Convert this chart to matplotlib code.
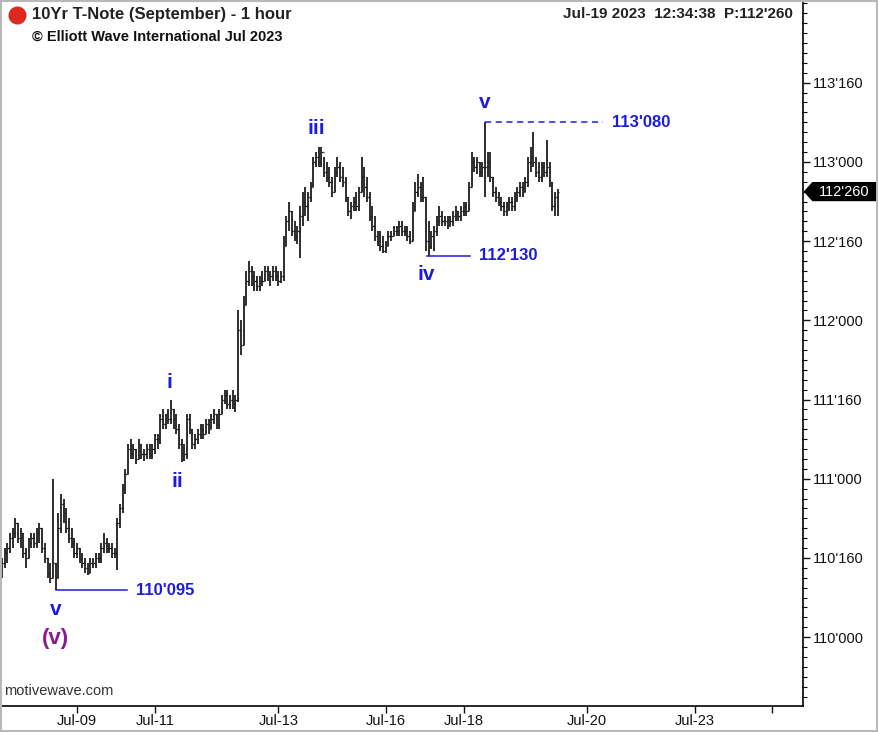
import matplotlib.pyplot as plt
from matplotlib.patches import Polygon, Rectangle
from matplotlib.ticker import MultipleLocator, FixedLocator, FuncFormatter
import matplotlib.transforms as mtransforms

plt.rcParams['font.family'] = ['Liberation Sans', 'DejaVu Sans']

# hourly bars, prices in 32nds of a point above 110'000
bar_open = [9, 13, 15, 17, 18, 20, 21, 23, 20, 21,
            17, 16, 19, 20, 19, 21, 22, 18, 16, 13,
            12, 15, 12, 22, 27, 25, 22, 20, 19, 17,
            18, 16, 15, 14, 13, 15, 15, 16, 16, 18,
            19, 18, 18, 17, 17, 23, 26, 30, 33, 38,
            37, 38, 36, 39, 37, 37, 38, 37, 38, 40,
            40, 44, 43, 45, 44, 46, 44, 42, 39, 36,
            37, 44, 42, 39, 40, 41, 42, 41, 43, 42,
            44, 45, 43, 45, 48, 49, 47, 48, 47, 48,
            62, 59, 67, 72, 74, 73, 72, 71, 72, 72,
            74, 73, 73, 74, 73, 72, 73, 79, 84, 86,
            82, 81, 82, 85, 88, 87, 89, 91, 96, 97,
            96, 98, 94, 93, 92, 90, 94, 95, 93, 92,
            89, 86, 87, 88, 87, 90, 93, 91, 89, 85,
            83, 81, 80, 79, 78, 79, 81, 81, 82, 82,
            83, 82, 82, 81, 80, 86, 90, 91, 89, 89,
            80, 79, 81, 82, 84, 85, 84, 84, 83, 84,
            85, 86, 85, 86, 87, 86, 91, 96, 95, 96,
            94, 95, 95, 96, 93, 90, 89, 88, 87, 86,
            87, 88, 87, 89, 90, 91, 90, 92, 96, 97,
            96, 94, 93, 95, 94, 95, 92, 87, 89]
bar_high = [14, 16, 18, 19, 21, 22, 24, 23, 22, 21,
            18, 20, 21, 21, 22, 23, 22, 19, 16, 15,
            32, 15, 25, 29, 28, 26, 24, 22, 20, 19,
            18, 17, 16, 15, 16, 16, 17, 17, 19, 21,
            20, 19, 19, 18, 24, 27, 31, 34, 39, 40,
            39, 38, 40, 39, 38, 39, 39, 39, 41, 41,
            45, 46, 45, 46, 48, 46, 45, 43, 40, 39,
            45, 45, 42, 41, 42, 43, 43, 44, 44, 45,
            46, 45, 46, 49, 50, 50, 49, 50, 49, 66,
            64, 69, 74, 76, 75, 74, 73, 73, 74, 75,
            75, 74, 75, 75, 74, 74, 81, 85, 88, 86,
            84, 83, 87, 90, 91, 90, 92, 97, 98, 99,
            99, 97, 96, 95, 93, 95, 97, 96, 95, 93,
            89, 88, 89, 90, 91, 97, 95, 93, 90, 87,
            85, 82, 82, 81, 80, 82, 82, 83, 83, 84,
            84, 83, 83, 82, 88, 92, 93.5, 92, 93, 89,
            84, 82, 83, 85, 87, 86, 85, 85, 85, 86,
            87, 86, 87, 88, 88, 92, 98, 97, 97, 96,
            96, 104, 98, 98, 93, 91, 90, 89, 88, 88,
            89, 89, 90, 91, 92, 92, 93, 97, 99, 102,
            97, 96, 96, 96, 100.5, 96, 92, 90, 90.5]
bar_low = [8, 12, 14, 15, 17, 18, 20, 19, 18, 16,
           14, 16, 18, 18, 18, 19, 17, 15, 12, 11,
           12, 9.5, 12, 21, 23, 21, 19, 18, 16, 16,
           15, 14, 13, 12.5, 13, 14, 14, 15, 15, 17,
           17, 17, 16, 16, 13.5, 22, 25, 29, 33, 36,
           36, 35, 36, 36, 35.5, 36, 36, 36, 37, 38,
           39, 42, 42, 43, 43, 42, 41, 38, 35.4, 35.5,
           36, 41, 38, 38, 39, 40, 40, 41, 41, 42,
           43, 42, 42, 45, 47, 46, 46, 46, 45.5, 47.5,
           57, 59, 67, 71, 71, 70, 70, 70, 71, 72,
           72, 71, 72, 72, 71, 71.5, 72, 79, 82, 81,
           80, 79.5, 76.5, 83, 85, 84, 88, 91, 95, 95,
           95, 93, 92, 91, 89, 90, 93, 92, 91, 88,
           85, 84.5, 86, 86, 86, 90, 89, 88, 84, 82,
           80, 79, 78, 77.5, 77.5, 79, 80, 81, 81, 81,
           81, 81, 80, 79.5, 80, 86, 89, 88, 88, 78,
           77, 78.5, 78, 81, 83, 83, 83, 82.5, 83, 83,
           84, 84, 84, 85, 85, 86, 91, 94, 93.5, 93,
           93, 89, 93, 92, 89, 88, 87, 86, 85, 85,
           86, 86, 86, 88, 89, 89, 90, 91, 94, 95,
           93, 92, 92, 93, 93, 91, 86, 85, 85]
bar_close = [13, 15, 17, 18, 20, 21, 23, 20, 21, 17,
             16, 19, 20, 19, 21, 22, 18, 16, 13, 12,
             15, 12, 22, 27, 25, 22, 20, 19, 17, 18,
             16, 15, 14, 13, 15, 15, 16, 16, 18, 19,
             18, 18, 17, 17, 23, 26, 30, 33, 38, 37,
             38, 36, 39, 37, 37, 38, 37, 38, 40, 40,
             44, 43, 45, 44, 46, 44, 42, 39, 36, 37,
             44, 42, 39, 40, 41, 42, 41, 43, 42, 44,
             45, 43, 45, 48, 49, 47, 48, 47, 48, 62,
             59, 67, 72, 74, 73, 72, 71, 72, 72, 74,
             73, 73, 74, 73, 72, 73, 79, 84, 86, 82,
             81, 82, 85, 88, 87, 89, 91, 96, 97, 96,
             98, 94, 93, 92, 90, 94, 95, 93, 92, 89,
             86, 87, 88, 87, 90, 93, 91, 89, 85, 83,
             81, 80, 79, 78, 79, 81, 81, 82, 82, 83,
             82, 82, 81, 80, 86, 90, 91, 89, 89, 80,
             79, 81, 82, 84, 85, 84, 84, 83, 84, 85,
             86, 85, 86, 87, 86, 91, 96, 95, 96, 94,
             95, 95, 96, 93, 90, 89, 88, 87, 86, 87,
             88, 87, 89, 90, 91, 90, 92, 96, 97, 96,
             94, 93, 95, 94, 95, 92, 87, 89, 90]

# session-start bar index for each date label
date_ticks = [29, 58, 104, 144, 173, 219, 259, 288]
date_labels = ['Jul-09', 'Jul-11', 'Jul-13', 'Jul-16', 'Jul-18', 'Jul-20', 'Jul-23', '']

# labelled price levels (32nds above 110'000): 110'000 ... 113'160
price_ticks = [0, 16, 32, 48, 64, 80, 96, 112]

last_price = 90  # 112'260

# Elliott wave counts: (label, bar, level in 32nds, color)
wave_labels = [('v', 21, 5.5, '#1c1ce0'), ('(v)', 21, -0.3, '#8b1a8e'),
               ('i', 63.5, 51.5, '#1c1ce0'), ('ii', 66.5, 31.5, '#1c1ce0'),
               ('iii', 118, 102.8, '#1c1ce0'), ('iv', 159, 73.3, '#1c1ce0'),
               ('v', 181, 108, '#1c1ce0')]
# marked extremes: (level, line start bar, line end bar, dashed)
marked_levels = [(9.5, 21, 47.5, False), (77, 159.3, 175.3, False), (104, 181, 225, True)]

blue = '#1c1ce0'


def fmt32(v, pos=None):
    handle = 110 + int(v // 32)
    rem = v - (handle - 110) * 32
    whole = int(rem + 1e-6)
    frac = int(round((rem - whole) * 10))
    return f"{handle}'{whole:02d}{frac}"


fig = plt.figure(figsize=(8.79, 7.32), dpi=100)
ax = fig.add_axes([0, 26 / 732, 803 / 879, 1 - 26 / 732])

xs = range(len(bar_close))
ax.vlines(xs, bar_low, bar_high, color='#1e1e1e', lw=1.3)
ax.hlines(bar_open, [x - 0.5 for x in xs], xs, color='#1e1e1e', lw=0.9)
ax.hlines(bar_close, xs, [x + 0.5 for x in xs], color='#1e1e1e', lw=0.9)

for lvl, x0, x1, dashed in marked_levels:
    ax.plot([x0, x1], [lvl, lvl], color=blue, lw=1.1, ls=(0, (4, 3)) if dashed else '-')
    ax.text(x1 + 3.3, lvl, fmt32(lvl), color=blue, fontsize=12, fontweight='bold',
            va='center', ha='left')

for lab, x, y, c in wave_labels:
    size = 16 if lab == '(v)' else 15
    ax.text(x, y, lab, color=c, fontsize=size, fontweight='bold', ha='center', va='center')

ax.set_xlim(0.3, 299.4)
ax.set_ylim(-13.9, 128.7)

ax.yaxis.tick_right()
ax.yaxis.set_major_locator(FixedLocator(price_ticks))
ax.yaxis.set_minor_locator(MultipleLocator(2))
ax.yaxis.set_major_formatter(FuncFormatter(fmt32))
ax.tick_params(axis='y', which='major', length=5, width=1, labelsize=10.5, pad=2,
               colors='#111111')
ax.tick_params(axis='y', which='minor', length=3, width=0.8)

ax.set_xticks(date_ticks)
ax.set_xticklabels(date_labels)
ax.tick_params(axis='x', length=5, width=1, labelsize=10.5, pad=1, colors='#111111')

for s in ['top', 'left']:
    ax.spines[s].set_visible(False)
ax.spines['right'].set_linewidth(1.2)
ax.spines['bottom'].set_linewidth(1.2)

# last price tag on the price axis
tr = mtransforms.blended_transform_factory(ax.transAxes, ax.transData)
tag = Polygon([(1.002, last_price), (1.012, last_price + 1.8), (1.091, last_price + 1.8),
               (1.091, last_price - 1.8), (1.012, last_price - 1.8)],
              closed=True, transform=tr, facecolor='black', edgecolor='black', clip_on=False)
ax.add_patch(tag)
ax.text(1.051, last_price, fmt32(last_price), transform=tr, color='white', fontsize=10.5,
        ha='center', va='center', clip_on=False)

# header and footer
ax.plot([17 / 879], [1 - 15 / 732], 'o', color='#dd2a1e', markersize=12,
        transform=fig.transFigure, clip_on=False)
fig.text(32 / 879, 1 - 15 / 732, '10Yr T-Note (September) - 1 hour', fontsize=12,
         fontweight='bold', va='center', ha='left', color='#222222')
fig.text(32 / 879, 1 - 37 / 732, '\u00a9 Elliott Wave International Jul 2023', fontsize=10.5,
         fontweight='bold', va='center', ha='left', color='#111111')
fig.text(793 / 879, 1 - 14 / 732, "Jul-19 2023  12:34:38  P:112'260", fontsize=11,
         fontweight='bold', va='center', ha='right', color='#222222')
fig.text(4 / 879, 1 - 691 / 732, 'motivewave.com', fontsize=10.5, va='center', ha='left',
         color='#333333')

fig.add_artist(Rectangle((0.001, 0.001), 0.997, 0.997, transform=fig.transFigure,
                         fill=False, edgecolor='#b8b8b8', lw=1.5))

fig.savefig('out.png', dpi=100)
